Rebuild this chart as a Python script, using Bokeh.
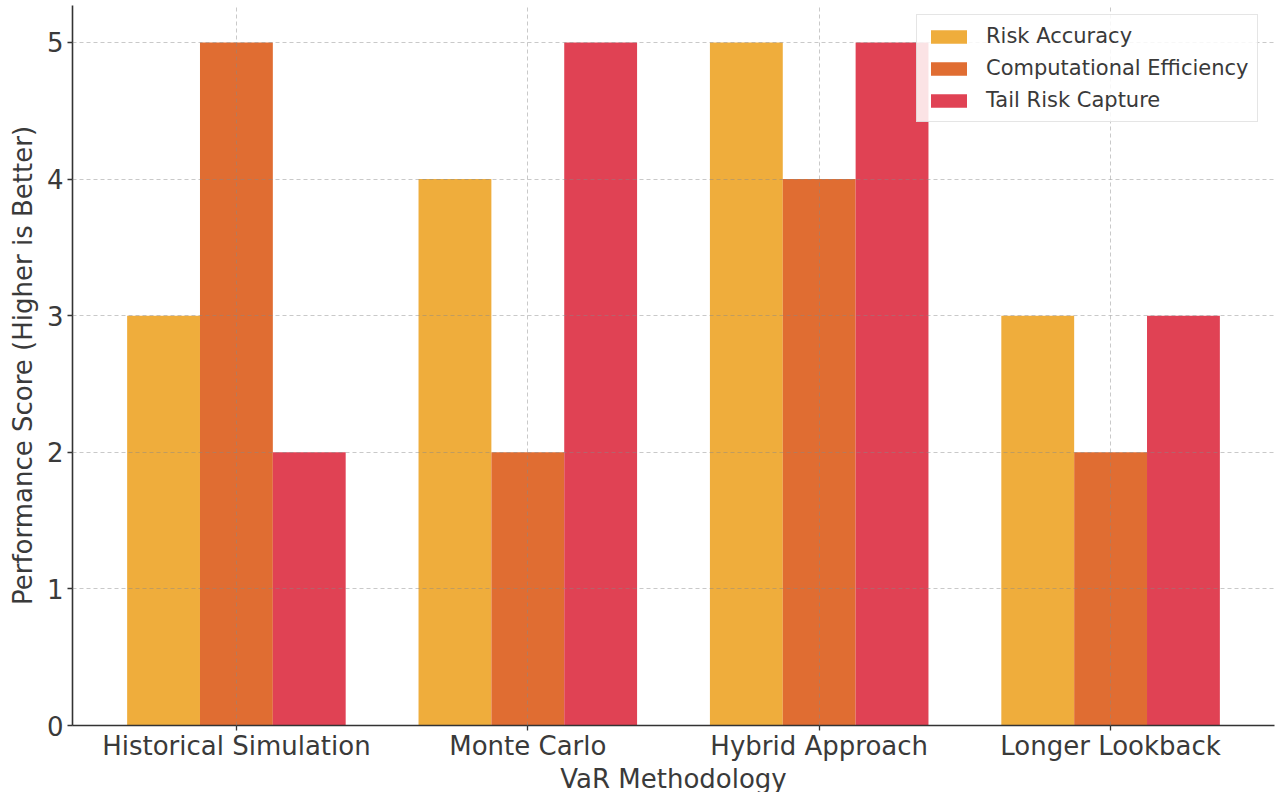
from bokeh.plotting import figure
from bokeh.models import ColumnDataSource, Range1d, FixedTicker, Legend, LegendItem
from bokeh.transform import dodge
from bokeh.embed import file_html
from bokeh.resources import INLINE

methods = ["Historical Simulation", "Monte Carlo", "Hybrid Approach", "Longer Lookback"]
risk_accuracy = [3, 4, 5, 3]
computational_efficiency = [5, 2, 4, 2]
tail_risk_capture = [2, 5, 5, 3]
y_ticks = [0, 1, 2, 3, 4, 5]

series_names = ["Risk Accuracy", "Computational Efficiency", "Tail Risk Capture"]
colors = ["#EFAD3C", "#E06D32", "#E04254"]

src = ColumnDataSource(dict(
    idx=list(range(len(methods))),
    ra=risk_accuracy,
    ce=computational_efficiency,
    tr=tail_risk_capture,
))

FONT = "DejaVu Sans"
TXT = "#3a3a3a"

p = figure(frame_width=1202, frame_height=720,
           min_border_left=72, min_border_right=1, min_border_top=5, min_border_bottom=60,
           x_range=Range1d(-0.5625, 3.5625), y_range=Range1d(0, 5.27),
           output_backend="svg", toolbar_location=None)

w = 0.25
r1 = p.vbar(x=dodge("idx", -w, range=p.x_range), top="ra", width=w, source=src,
            fill_color=colors[0], line_color=None)
r2 = p.vbar(x=dodge("idx", 0.0, range=p.x_range), top="ce", width=w, source=src,
            fill_color=colors[1], line_color=None)
r3 = p.vbar(x=dodge("idx", w, range=p.x_range), top="tr", width=w, source=src,
            fill_color=colors[2], line_color=None)

p.outline_line_color = None
p.background_fill_color = "white"
p.border_fill_color = "white"

p.xaxis.ticker = FixedTicker(ticks=list(range(len(methods))))
p.xaxis.major_label_overrides = {i: m for i, m in enumerate(methods)}
p.yaxis.ticker = FixedTicker(ticks=y_ticks)

for ax in (p.xaxis, p.yaxis):
    ax.axis_line_color = "#333333"
    ax.axis_line_width = 1.6
    ax.major_tick_line_color = "#333333"
    ax.major_tick_line_width = 1.3
    ax.major_tick_out = 5
    ax.major_tick_in = 0
    ax.minor_tick_line_color = None
    ax.major_label_text_font = FONT
    ax.major_label_text_font_size = "26px"
    ax.major_label_text_color = TXT
    ax.axis_label_text_font = FONT
    ax.axis_label_text_font_size = "26px"
    ax.axis_label_text_font_style = "normal"
    ax.axis_label_text_color = TXT

p.xaxis.axis_label = "VaR Methodology"
p.yaxis.axis_label = "Performance Score (Higher is Better)"
p.xaxis.major_label_standoff = 0
p.xaxis.axis_label_standoff = 0
p.yaxis.major_label_standoff = 4
p.yaxis.axis_label_standoff = 6

for g in (p.xgrid, p.ygrid):
    g.grid_line_color = "#888888"
    g.grid_line_alpha = 0.45
    g.grid_line_dash = "4 3"
    g.grid_line_width = 1
    g.level = "overlay"
p.xgrid.ticker = FixedTicker(ticks=list(range(len(methods))))
p.ygrid.ticker = FixedTicker(ticks=y_ticks)

legend = Legend(items=[LegendItem(label=series_names[0], renderers=[r1]),
                       LegendItem(label=series_names[1], renderers=[r2]),
                       LegendItem(label=series_names[2], renderers=[r3])],
                location=(844, 603))
legend.label_text_font = FONT
legend.label_text_font_size = "21px"
legend.label_text_color = TXT
legend.glyph_width = 45
legend.glyph_height = 17
legend.label_height = 24
legend.spacing = 8
legend.padding = 9
legend.margin = 0
legend.label_standoff = 15
legend.border_line_color = "#cccccc"
legend.border_line_width = 1
legend.background_fill_color = "white"
legend.background_fill_alpha = 0.85
p.add_layout(legend, "center")

open("out.html", "w").write(file_html(p, INLINE))
